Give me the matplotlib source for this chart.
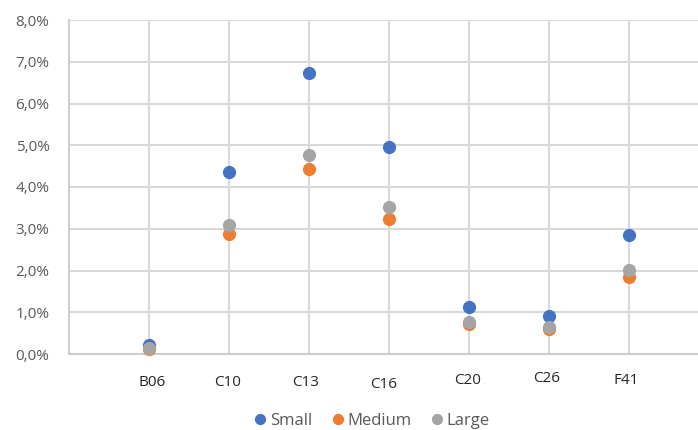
import matplotlib
matplotlib.use("Agg")
import matplotlib.pyplot as plt
from matplotlib.ticker import FuncFormatter

categories = ["B06", "C10", "C13", "C16", "C20", "C26", "F41"]
small = [0.22, 4.37, 6.73, 4.97, 1.12, 0.91, 2.85]
medium = [0.12, 2.87, 4.42, 3.24, 0.72, 0.59, 1.85]
large = [0.14, 3.09, 4.77, 3.51, 0.77, 0.65, 2.01]
series_names = ["Small", "Medium", "Large"]
colors = ["#4472C4", "#ED7D31", "#A5A5A5"]

plt.rcParams['font.family'] = ['Open Sans', 'DejaVu Sans']

W, H = 698, 430
fig = plt.figure(figsize=(W / 100, H / 100), dpi=100)
ax = fig.add_axes([69 / W, 1 - 354 / H, (W - 69) / W, (354 - 20) / H])

xs = list(range(1, len(categories) + 1))
for vals, name, c in zip([small, medium, large], series_names, colors):
    ax.plot(xs, vals, linestyle="none", marker="o", markersize=9.5,
            color=c, markeredgewidth=0, label=name, zorder=3, clip_on=False)

ax.set_xlim(0, 7.8625)
ax.set_ylim(0, 8)
ax.set_yticks(range(0, 9))
ax.yaxis.set_major_formatter(FuncFormatter(lambda v, p: f"{v:.1f}%".replace(".", ",")))
ax.set_xticks(xs)
ax.set_xticklabels([])
ax.tick_params(axis="both", length=0)
ax.tick_params(axis="y", labelsize=11, labelcolor="#595959", pad=14)
ax.grid(True, color="#D9D9D9", linewidth=1.5, zorder=0)
ax.set_axisbelow(True)
for s in ["top", "right"]:
    ax.spines[s].set_visible(False)
ax.spines["left"].set_color("#D0D0D0")
ax.spines["left"].set_linewidth(1.5)
ax.spines["bottom"].set_color("#CCCCCC")
ax.spines["bottom"].set_linewidth(1.5)

# category labels (slightly jittered as in the reference)
label_dx = [3, -1, -3, -5, -1, -2, -3]
label_dy = [-29, -28, -29, -31, -27, -25, -27]
for x, lab, dx, dy in zip(xs, categories, label_dx, label_dy):
    ax.annotate(lab, xy=(x, 0), xytext=(dx * 0.72, dy * 0.72), textcoords="offset points",
                ha="center", va="center", fontsize=11, color="#262626",
                annotation_clip=False)

leg = fig.legend(loc="center", bbox_to_anchor=(370 / W, 1 - 421 / H), ncol=3, frameon=False,
                 fontsize=12, handletextpad=0.0, columnspacing=0.9, markerscale=0.85,
                 handlelength=1.2)
for t in leg.get_texts():
    t.set_color("#595959")

fig.savefig("out.png", dpi=100)
